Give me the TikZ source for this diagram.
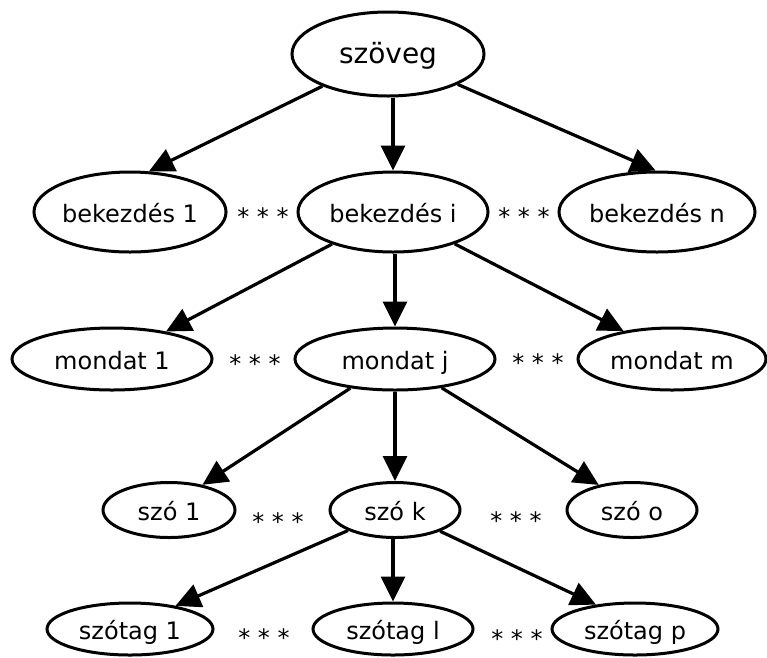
\documentclass[tikz,border=0pt]{standalone}
\usepackage{fontspec}
\setmainfont{DejaVu Sans}
\usetikzlibrary{shapes.geometric,arrows.meta}
\begin{document}
\begin{tikzpicture}[x=1pt,y=-1pt,
  unit/.style={ellipse, draw, line width=3pt, inner sep=0pt,
    text height=20pt, text depth=0pt, font=\fontsize{24pt}{28pt}\selectfont},
  rootunit/.style={unit, text height=19pt, font=\fontsize{28pt}{32pt}\selectfont},
  link/.style={line width=3.2pt, -{Triangle[length=25pt,width=24pt]}},
  dots/.style={inner sep=0pt, font=\fontsize{24pt}{28pt}\selectfont}]
\useasboundingbox (0,0) rectangle (767,657);

% text
\node[rootunit, minimum width=192pt, minimum height=84pt] (root) at (388,54) {szöveg};

% paragraphs
\node[unit, minimum width=188pt, minimum height=80pt] (b1) at (130,212) {bekezdés 1};
\node[unit, minimum width=190pt, minimum height=80pt] (bi) at (393,212) {bekezdés i};
\node[unit, minimum width=196pt, minimum height=80pt] (bn) at (657,212) {bekezdés n};

% sentences
\node[unit, minimum width=200pt, minimum height=62pt] (m1) at (112,359) {mondat 1};
\node[unit, minimum width=200pt, minimum height=62pt] (mj) at (395,359) {mondat j};
\node[unit, minimum width=188pt, minimum height=62pt] (mm) at (672,359) {mondat m};

% words
\node[unit, minimum width=132pt, minimum height=55pt] (s1) at (169,510) {szó 1};
\node[unit, minimum width=130pt, minimum height=55pt] (sk) at (395,510) {szó k};
\node[unit, minimum width=130pt, minimum height=55pt] (so) at (632,510) {szó o};

% syllables
\node[unit, minimum width=166pt, minimum height=52pt] (t1) at (130,629) {szótag 1};
\node[unit, minimum width=160pt, minimum height=52pt] (tl) at (393,629) {szótag l};
\node[unit, minimum width=166pt, minimum height=52pt] (tp) at (635,629) {szótag p};

% ellipsis marks between siblings
\node[dots] (d1a) at (263,217) {* * *};
\node[dots] (d1b) at (524,217) {* * *};
\node[dots] (d2a) at (255,364) {* * *};
\node[dots] (d2b) at (538,363) {* * *};
\node[dots] (d3a) at (278,522) {* * *};
\node[dots] (d3b) at (516,521) {* * *};
\node[dots] (d4a) at (264,638) {* * *};
\node[dots] (d4b) at (517,639) {* * *};

% hierarchy
\draw[link] (root) -- (b1.65);
\draw[link] (bi.north |- root.south) -- (bi.north);
\draw[link] (root) -- (bn.92);

\draw[link] (bi) -- (m1.27);
\draw[link] (mj.north |- bi.south) -- (mj.north);
\draw[link] (bi) -- (mm.150);

\draw[link] (mj) -- (s1.37);
\draw[link] (sk.north |- mj.south) -- (sk.north);
\draw[link] (mj) -- (so.143);

\draw[link] (sk) -- (t1.27);
\draw[link] (tl.north |- sk.south) -- (tl.north);
\draw[link] (sk) -- (tp.148);
\end{tikzpicture}
\end{document}
